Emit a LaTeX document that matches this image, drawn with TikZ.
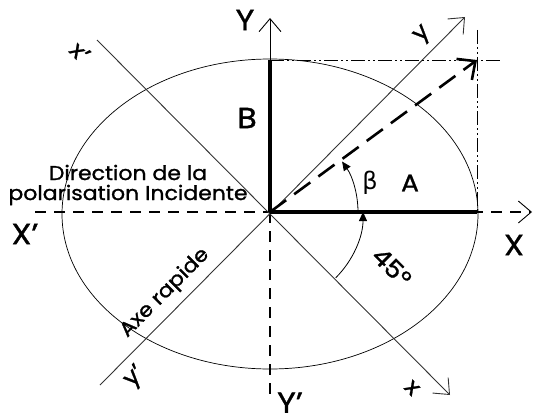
\documentclass[tikz,border=0pt]{standalone}
\usepackage{fontspec}
\setmainfont{Poppins}[FakeStretch=1.1,FakeBold=1.2]
\newfontfamily\greekfont{DejaVu Sans}
\usepackage{tikz}
\usetikzlibrary{arrows.meta,positioning,calc}

\begin{document}
\begin{tikzpicture}[x=1pt,y=1pt,
  axis/.style={line width=1.4pt,dash pattern=on 11pt off 8pt},
  guide/.style={line width=0.7pt,dash pattern=on 14pt off 3pt on 2pt off 3pt on 2pt off 3pt},
  barb/.style={-{Straight Barb[length=13pt,width=22pt,line width=0.9pt]}},
  rotaxis/.style={line width=0.9pt,black!80,barb},
  compo/.style={line width=3.5pt},
  anglearc/.style={line width=0.8pt,-{Triangle[length=9pt,width=8pt]}},
  biglbl/.style={font=\fontsize{29}{29}\selectfont},
  midlbl/.style={font=\fontsize{24}{24}\selectfont},
  smalllbl/.style={font=\fontsize{23}{23}\selectfont},
  txt/.style={font=\fontsize{20}{20}\selectfont,align=center}]
  \useasboundingbox (0,0) rectangle (543,416);
  % main points
  \coordinate (O) at (270,204);
  \coordinate (Aend) at (477,204);
  \coordinate (Btop) at (270,356);
  \coordinate (P) at (477,356);
  \coordinate (Xl) at (35,204);
  \coordinate (Xr) at (532,204);
  \coordinate (Yt) at (270,398);
  \coordinate (Yb) at (270,19);
  \coordinate (xs) at (97,376);
  \coordinate (xe) at (450,21);
  \coordinate (ys) at (100,31);
  \coordinate (ye) at (465,399);
  \coordinate (Gr) at (502,356);
  \coordinate (Gt) at (477,386);
  % ellipse
  \draw[line width=0.7pt] (270,202) ellipse[x radius=208,y radius=155];
  % fixed axes X, Y
  \draw[axis,barb] (Xl) -- (Xr);
  \draw[axis] (O) -- (Yb);
  \draw[line width=0.9pt,barb] (Btop) -- (Yt);
  % crystal axes x, y
  \draw[rotaxis] (xs) -- (xe);
  \draw[rotaxis] (ys) -- (ye);
  % construction lines
  \draw[guide] (Btop) -- (Gr);
  \draw[guide] (Gt) -- (Aend);
  % components A and B
  \draw[compo] (O) -- (Aend);
  \draw[compo] (O) -- (Btop);
  % resultant
  \draw[line width=2.6pt,dash pattern=on 20pt off 10pt,
    -{Straight Barb[length=14pt,width=26pt,line width=2.6pt]}] (O) -- (P);
  % angles
  \draw[anglearc] (O) ++(0:88) arc[start angle=0,end angle=35,radius=88];
  \draw[anglearc] (O) ++(-45:93) arc[start angle=-45,end angle=0,radius=93];
  % labels
  \node[biglbl] (lY) at (245,396) {Y};
  \node[biglbl] (lX) at (514,171) {X};
  \node[biglbl] (lXp) at (25,182) {X’};
  \node[biglbl,inner sep=1pt,anchor=south] (lYp) at (290,2) {Y’};
  \node[biglbl] (lB) at (247,298) {B};
  \node[midlbl] (lA) at (410,233) {A};
  \node[midlbl] (lbeta) at (370,233) {\greekfont β};
  \node[midlbl,rotate=-45] (l45) at (392,149) {45°};
  \node[smalllbl,rotate=-45] (lxp) at (80,364) {x’};
  \node[smalllbl,rotate=45] (ly) at (423,381) {y};
  \node[smalllbl,rotate=45] (lyp) at (135,39) {y’};
  \node[smalllbl,rotate=-45] (lx) at (412,28) {x};
  \node[txt,rotate=45] (laxe) at (165,123) {Axe rapide};
  \node[txt] (ldir) at (128,231) {Direction de la\\polarisation Incidente};
\end{tikzpicture}
\end{document}
